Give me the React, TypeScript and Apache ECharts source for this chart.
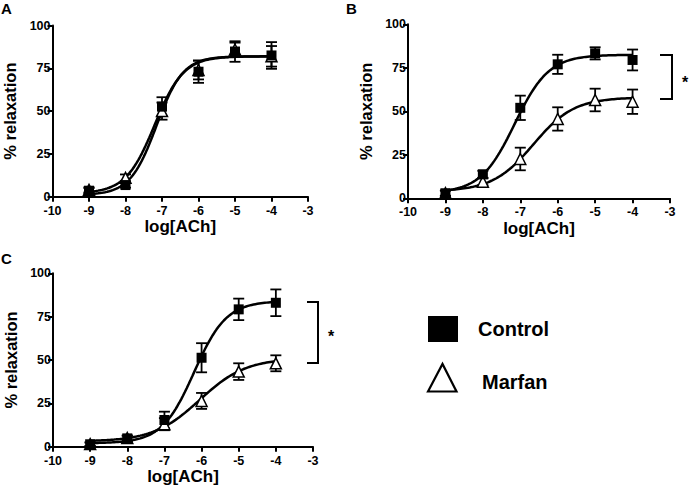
import React, { useEffect, useRef } from "react";
import * as echarts from "echarts";

// log[ACh] doses
const doses = [-9, -8, -7, -6, -5, -4];
const xTickMin = -10;
const xTickMax = -3;
const yTickMax = 100;

// Panel A (mean % relaxation, SEM)
const aControl = [3.5, 6.8, 52.6, 73, 84.8, 82.5];
const aControlErr = [1.5, 1.5, 5.5, 6.5, 6, 7.8];
const aMarfan = [4, 11, 50, 74, 86, 82];
const aMarfanErr = [1.5, 2, 5, 5.5, 4, 6];

// Panel B
const bControl = [2.9, 13.8, 52, 77, 83.3, 79.5];
const bControlErr = [1.5, 2, 7, 5.5, 3.5, 6];
const bMarfan = [3, 9.5, 22.6, 45.6, 56.5, 55.5];
const bMarfanErr = [1.5, 2, 6.5, 6.7, 6.5, 7];

// Panel C
const cControl = [1.4, 4.8, 15.4, 51.3, 79.2, 83];
const cControlErr = [1, 1.5, 4.8, 8.4, 6.2, 7.7];
const cMarfan = [1.5, 5, 13, 26.4, 43.3, 48.1];
const cMarfanErr = [1, 1.5, 3.5, 4.6, 4.8, 4.6];

// Fitted sigmoid parameters [bottom, top, logEC50, hillSlope]
const aControlFit = [1, 82, -7.15, 1.2];
const aMarfanFit = [2, 82, -7.2, 1.1];
const bControlFit = [3, 82.5, -7.15, 0.95];
const bMarfanFit = [4, 58, -6.65, 0.8];
const cControlFit = [2, 84, -6.2, 1.0];
const cMarfanFit = [3, 51, -6.05, 0.7];

const FONT = "'Liberation Sans', Arial, Helvetica, sans-serif";

function fitCurve(p: number[]) {
  const [bottom, top, ec50, hill] = p;
  const out: number[][] = [];
  for (let i = 0; i <= 100; i++) {
    const x = doses[0] + (i * (doses[doses.length - 1] - doses[0])) / 100;
    const y = bottom + (top - bottom) / (1 + Math.pow(10, (ec50 - x) * hill));
    out.push([x, y]);
  }
  return out;
}

function errData(vals: number[], errs: number[]) {
  return doses.map((d, i) => [d, vals[i] - errs[i], vals[i] + errs[i]]);
}

function pts(vals: number[]) {
  return doses.map((d, i) => [d, vals[i]]);
}

const grids = [
  { left: 52.5, top: 25.5, width: 255.5, height: 171.2 },
  { left: 408, top: 24.3, width: 262, height: 174 },
  { left: 53, top: 273.3, width: 260, height: 173.4 },
];

function makeX(i: number) {
  return {
    type: "value",
    gridIndex: i,
    min: xTickMin,
    max: xTickMax,
    interval: 1,
    name: "log[ACh]",
    nameLocation: "middle",
    nameGap: 21,
    nameTextStyle: { color: "#000", fontWeight: "bold", fontSize: 17, fontFamily: FONT, verticalAlign: "top" },
    axisLine: { lineStyle: { color: "#000", width: 2 } },
    axisTick: { length: 5, lineStyle: { color: "#000", width: 2 } },
    splitLine: { show: false },
    axisLabel: { color: "#000", fontWeight: "bold", fontSize: 12.5, fontFamily: FONT, margin: 8, lineHeight: 12 },
  };
}

function makeY(i: number) {
  return {
    type: "value",
    gridIndex: i,
    min: 0,
    max: yTickMax,
    interval: 25,
    name: "% relaxation",
    nameLocation: "middle",
    nameRotate: 90,
    nameGap: 34,
    nameTextStyle: { color: "#000", fontWeight: "bold", fontSize: 16.5, fontFamily: FONT },
    axisLine: { lineStyle: { color: "#000", width: 2 } },
    axisTick: { length: 5, lineStyle: { color: "#000", width: 2 } },
    splitLine: { show: false },
    axisLabel: { color: "#000", fontWeight: "bold", fontSize: 12.5, fontFamily: FONT, margin: 2, lineHeight: 12 },
  };
}

function curveSeries(i: number, name: string, p: number[]) {
  return {
    type: "line",
    name,
    xAxisIndex: i,
    yAxisIndex: i,
    data: fitCurve(p),
    showSymbol: false,
    symbol: "none",
    lineStyle: { color: "#000", width: 2.5 },
    z: 2,
    silent: true,
  };
}

function errSeries(i: number, name: string, vals: number[], errs: number[]) {
  return {
    type: "custom",
    name,
    xAxisIndex: i,
    yAxisIndex: i,
    data: errData(vals, errs),
    encode: { x: 0, y: [1, 2] },
    z: 3,
    silent: true,
    renderItem: (params: any, api: any) => {
      const x = api.value(0);
      const lo = api.coord([x, api.value(1)]);
      const hi = api.coord([x, api.value(2)]);
      const hw = 5.5;
      const st = { stroke: "#000", lineWidth: 1.8, fill: "none" };
      return {
        type: "group",
        children: [
          { type: "line", shape: { x1: lo[0], y1: lo[1], x2: hi[0], y2: hi[1] }, style: st },
          { type: "line", shape: { x1: hi[0] - hw, y1: hi[1], x2: hi[0] + hw, y2: hi[1] }, style: st },
          { type: "line", shape: { x1: lo[0] - hw, y1: lo[1], x2: lo[0] + hw, y2: lo[1] }, style: st },
        ],
      };
    },
  };
}

function controlPts(i: number, vals: number[]) {
  return {
    type: "scatter",
    name: "Control",
    xAxisIndex: i,
    yAxisIndex: i,
    data: pts(vals),
    symbol: "rect",
    symbolSize: 10,
    itemStyle: { color: "#000", opacity: 1 },
    z: 5,
  };
}

function marfanPts(i: number, vals: number[]) {
  return {
    type: "scatter",
    name: "Marfan",
    xAxisIndex: i,
    yAxisIndex: i,
    data: pts(vals),
    symbol: "triangle",
    symbolSize: [11, 11],
    itemStyle: { color: "#fff", borderColor: "#000", borderWidth: 1.5, opacity: 1 },
    z: 4,
  };
}

const option: any = {
  animation: false,
  backgroundColor: "#fff",
  grid: grids,
  xAxis: [makeX(0), makeX(1), makeX(2)],
  yAxis: [makeY(0), makeY(1), makeY(2)],
  series: [
    curveSeries(0, "Marfan fit A", aMarfanFit),
    curveSeries(0, "Control fit A", aControlFit),
    errSeries(0, "Marfan SEM A", aMarfan, aMarfanErr),
    errSeries(0, "Control SEM A", aControl, aControlErr),
    marfanPts(0, aMarfan),
    controlPts(0, aControl),

    curveSeries(1, "Marfan fit B", bMarfanFit),
    curveSeries(1, "Control fit B", bControlFit),
    errSeries(1, "Marfan SEM B", bMarfan, bMarfanErr),
    errSeries(1, "Control SEM B", bControl, bControlErr),
    marfanPts(1, bMarfan),
    controlPts(1, bControl),

    curveSeries(2, "Marfan fit C", cMarfanFit),
    curveSeries(2, "Control fit C", cControlFit),
    errSeries(2, "Marfan SEM C", cMarfan, cMarfanErr),
    errSeries(2, "Control SEM C", cControl, cControlErr),
    marfanPts(2, cMarfan),
    controlPts(2, cControl),
  ],
  graphic: [
    { type: "text", left: 1, top: 1, style: { text: "A", font: `bold 15px ${FONT}`, fill: "#000" } },
    { type: "text", left: 346, top: 1, style: { text: "B", font: `bold 15px ${FONT}`, fill: "#000" } },
    { type: "text", left: 1, top: 251, style: { text: "C", font: `bold 15px ${FONT}`, fill: "#000" } },
    // significance brackets
    {
      type: "polyline",
      shape: { points: [[660, 55], [672, 55], [672, 99], [660, 99]] },
      style: { stroke: "#000", lineWidth: 2, fill: "none" },
    },
    { type: "text", x: 682, y: 74, style: { text: "*", font: `bold 16px ${FONT}`, fill: "#000" } },
    {
      type: "polyline",
      shape: { points: [[307, 302], [318, 302], [318, 363], [307, 363]] },
      style: { stroke: "#000", lineWidth: 2, fill: "none" },
    },
    { type: "text", x: 328, y: 328, style: { text: "*", font: `bold 16px ${FONT}`, fill: "#000" } },
    // legend
    { type: "rect", shape: { x: 428, y: 316, width: 30, height: 26 }, style: { fill: "#000" } },
    {
      type: "text",
      x: 478,
      y: 329,
      style: { text: "Control", font: `bold 20px ${FONT}`, fill: "#000", verticalAlign: "middle" },
    },
    {
      type: "polygon",
      shape: { points: [[428, 391.5], [442.5, 364], [456.5, 391.5]] },
      style: { fill: "#fff", stroke: "#000", lineWidth: 2.2 },
    },
    {
      type: "text",
      x: 482,
      y: 382,
      style: { text: "Marfan", font: `bold 20px ${FONT}`, fill: "#000", verticalAlign: "middle" },
    },
  ],
};

export default function App() {
  const ref = useRef<HTMLDivElement>(null);
  useEffect(() => {
    document.body.style.margin = "0";
    const chart = echarts.init(ref.current!, null, { renderer: "svg" });
    chart.setOption(option);
    return () => chart.dispose();
  }, []);
  return <div ref={ref} style={{ width: 691, height: 491 }} />;
}
